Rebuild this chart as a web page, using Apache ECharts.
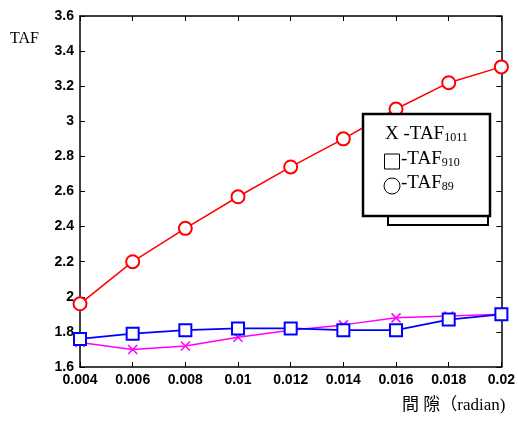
<!DOCTYPE html>
<html>
<head>
<meta charset="utf-8">
<script src="https://cdn.jsdelivr.net/npm/echarts@6/dist/echarts.min.js"></script>
<style>
html, body { margin: 0; padding: 0; background: #fff; }
#main { width: 518px; height: 421px; }
</style>
</head>
<body>
<div id="main"></div>
<script>
var gaps = ['0.004', '0.006', '0.008', '0.01', '0.012', '0.014', '0.016', '0.018', '0.02'];
var taf89 = [1.96, 2.20, 2.39, 2.57, 2.74, 2.90, 3.07, 3.22, 3.31];
var taf910 = [1.76, 1.79, 1.81, 1.82, 1.82, 1.81, 1.81, 1.87, 1.90];
var taf1011 = [1.74, 1.70, 1.72, 1.77, 1.81, 1.84, 1.88, 1.89, 1.90];

var tickFont = { fontFamily: 'Liberation Sans', fontWeight: 'bold', fontSize: 14, color: '#000' };
var serif = '"Liberation Serif", "Noto Sans CJK TC"';

var myChart = echarts.init(document.getElementById('main'));

var option = {
    animation: false,
    grid: { left: 80, right: 16, top: 16, bottom: 54 },
    xAxis: [
        {
            type: 'category',
            data: gaps,
            boundaryGap: false,
            axisLine: { lineStyle: { color: '#000', width: 1.5 } },
            axisTick: { inside: true, length: 5, lineStyle: { color: '#000' } },
            axisLabel: Object.assign({ margin: 6 }, tickFont),
            splitLine: { show: false }
        },
        {
            type: 'category',
            data: gaps,
            position: 'top',
            boundaryGap: false,
            axisLine: { lineStyle: { color: '#000', width: 1.5 } },
            axisTick: { inside: true, length: 5, lineStyle: { color: '#000' } },
            axisLabel: { show: false }
        }
    ],
    yAxis: [
        {
            type: 'value',
            min: 1.6,
            max: 3.6,
            interval: 0.2,
            axisLine: { show: true, lineStyle: { color: '#000', width: 1.5 } },
            axisTick: { show: true, inside: true, length: 5, lineStyle: { color: '#000' } },
            axisLabel: Object.assign({
                margin: 6,
                formatter: function (v) { return String(parseFloat(v.toFixed(1))); }
            }, tickFont),
            splitLine: { show: false }
        },
        {
            type: 'value',
            min: 1.6,
            max: 3.6,
            interval: 0.2,
            position: 'right',
            axisLine: { show: true, lineStyle: { color: '#000', width: 1.5 } },
            axisTick: { show: true, inside: true, length: 5, lineStyle: { color: '#000' } },
            axisLabel: { show: false },
            splitLine: { show: false }
        }
    ],
    series: [
        {
            name: 'TAF89',
            type: 'line',
            data: taf89,
            symbol: 'emptyCircle',
            symbolSize: 13,
            lineStyle: { color: '#ff0000', width: 1.5 },
            itemStyle: { color: '#ff0000', borderColor: '#ff0000', borderWidth: 1.3 }
        },
        {
            name: 'TAF1011',
            type: 'line',
            data: taf1011,
            symbol: 'path://M0,0L10,10M10,0L0,10',
            symbolSize: 9,
            lineStyle: { color: '#ff00ff', width: 1.5 },
            itemStyle: { color: '#ff00ff', borderColor: '#ff00ff', borderWidth: 1.5 }
        },
        {
            name: 'TAF910',
            type: 'line',
            data: taf910,
            symbol: 'emptyRect',
            symbolSize: 12,
            lineStyle: { color: '#0000ff', width: 1.8 },
            itemStyle: { color: '#0000ff', borderColor: '#0000ff', borderWidth: 2 }
        }
    ],
    graphic: [
        // y-axis title
        { type: 'text', left: 10, top: 31, style: { text: 'TAF', font: '16px ' + serif, fill: '#000' } },
        // x-axis title
        { type: 'text', left: 402, top: 397, style: { text: '間 隙（radian)', font: '17px ' + serif, fill: '#000' } },
        // legend box behind
        { type: 'rect', shape: { x: 388, y: 120, width: 100, height: 105 }, style: { fill: '#fff', stroke: '#000', lineWidth: 2 }, z: 10 },
        // legend box
        { type: 'rect', shape: { x: 363, y: 114, width: 127, height: 102 }, style: { fill: '#fff', stroke: '#000', lineWidth: 2.5 }, z: 11 },
        { type: 'text', left: 385, top: 125, z: 12, style: {
            text: '{a|X -TAF}{s|1011}',
            rich: { a: { font: '19px ' + serif, fill: '#000' }, s: { font: '12px ' + serif, fill: '#000', verticalAlign: 'bottom', padding: [6, 0, 0, 0] } }
        } },
        { type: 'rect', z: 12, shape: { x: 384.5, y: 154, width: 15, height: 15 }, style: { fill: 'none', stroke: '#000', lineWidth: 1 } },
        { type: 'text', left: 401, top: 150, z: 12, style: {
            text: '{a|-TAF}{s|910}',
            rich: { a: { font: '19px ' + serif, fill: '#000' }, s: { font: '12px ' + serif, fill: '#000', verticalAlign: 'bottom', padding: [6, 0, 0, 0] } }
        } },
        { type: 'circle', z: 12, shape: { cx: 392, cy: 186, r: 8 }, style: { fill: 'none', stroke: '#000', lineWidth: 1 } },
        { type: 'text', left: 401, top: 174, z: 12, style: {
            text: '{a|-TAF}{s|89}',
            rich: { a: { font: '19px ' + serif, fill: '#000' }, s: { font: '12px ' + serif, fill: '#000', verticalAlign: 'bottom', padding: [6, 0, 0, 0] } }
        } }
    ]
};

myChart.setOption(option);
</script>
</body>
</html>
